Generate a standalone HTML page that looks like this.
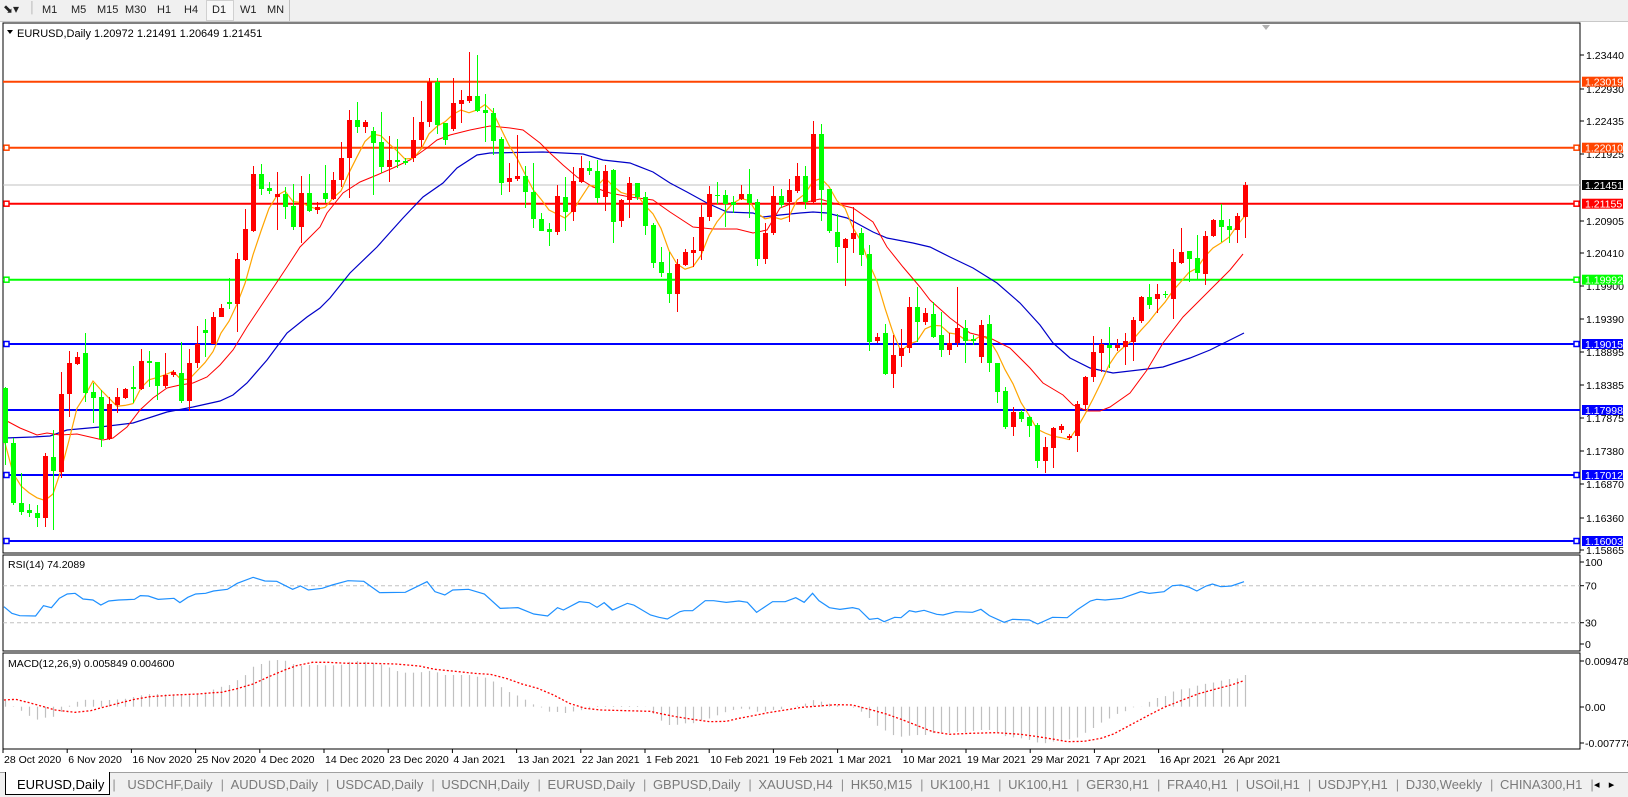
<!DOCTYPE html>
<html><head><meta charset="utf-8">
<style>
html,body{margin:0;padding:0;width:1628px;height:796px;overflow:hidden;background:#fff;font-family:"Liberation Sans",Tahoma,sans-serif;}
#tb{position:absolute;left:0;top:0;width:1628px;height:21px;background:#f0f0f0;border-bottom:1px solid #c8c8c8;font-size:11px;color:#222;}
#tb span{position:absolute;top:4px;}
#tabs{position:absolute;left:0;top:772px;width:1628px;height:24px;background:#f0f0f0;border-top:1px solid #a0a0a0;font-size:13px;color:#7a7a7a;white-space:nowrap;}
#tabs span{position:absolute;top:4px;}
svg{position:absolute;left:0;top:0}
</style></head><body>
<div id="tb">
<span style="left:3px;top:2px;font-size:12px">&#x2B0A;&#x25BE;</span>
<span style="left:29px;top:2px;color:#aaa">&#x2502;</span>
<span style="left:42px">M1</span><span style="left:71px">M5</span><span style="left:97px">M15</span><span style="left:125px">M30</span><span style="left:157px">H1</span><span style="left:184px">H4</span>
<span style="left:206px;top:0;width:26px;height:19px;border:1px solid #d0d0d0;background:#f8f8f8"></span>
<span style="left:212px">D1</span><span style="left:240px">W1</span><span style="left:267px">MN</span>
<span style="left:289px;top:0;height:21px;border-left:1px solid #c0c0c0"></span>
</div>
<svg id="s" width="1628" height="796" xmlns="http://www.w3.org/2000/svg" font-family="Liberation Sans, Tahoma, sans-serif"></svg>
<div id="tabs"></div>
<script>
const NS="http://www.w3.org/2000/svg";const S=document.getElementById('s');
function el(t,a,txt){const e=document.createElementNS(NS,t);for(const k in a)e.setAttribute(k,a[k]);if(txt!==undefined)e.textContent=txt;S.appendChild(e);return e;}
function interp(pts,x){if(x<=pts[0][0])return pts[0][1];for(let i=1;i<pts.length;i++){if(x<=pts[i][0]){const a=pts[i-1],b=pts[i];return a[1]+(b[1]-a[1])*(x-a[0])/(b[0]-a[0]);}}return pts[pts.length-1][1];}
el('rect',{x:3,y:23,width:1577,height:530,fill:'#fff',stroke:'#000','stroke-width':1});
el('rect',{x:3,y:555,width:1577,height:96,fill:'#fff',stroke:'#000','stroke-width':1});
el('rect',{x:3,y:653,width:1577,height:96,fill:'#fff',stroke:'#000','stroke-width':1});
el('polygon',{points:'1262,25 1270,25 1266,30',fill:'#b0b0b0'});
const lv=[[81.7,'#ff4500',0,0],[147.7,'#ff4500',1,1],[203.7,'#ff0000',1,1],[279.7,'#00ff00',1,1],[344,'#0000ff',1,1],[410,'#0000ff',0,0],[475,'#0000ff',1,1],[541,'#0000ff',1,1]];
el('line',{x1:3,x2:1580,y1:185,y2:185,stroke:'#c0c0c0','stroke-width':1});
lv.forEach(l=>{el('line',{x1:3,x2:1580,y1:l[0],y2:l[0],stroke:l[1],'stroke-width':2});
 if(l[2])el('rect',{x:4,y:l[0]-2.5,width:5,height:5,fill:'#fff',stroke:l[1],'stroke-width':1.5});
 if(l[3])el('rect',{x:1574,y:l[0]-2.5,width:5,height:5,fill:'#fff',stroke:l[1],'stroke-width':1.5});});
const C=`5,388,443,387,465,g;13,443,503,438,505,g;21,503,512,473,515,g;29,510,513,504,517,g;37,513,518,505,527,g;45,456,518,453,527,r;53,457,471,430,530,g;61,394,472,372,478,r;69,363,394,351,417,r;77,357,364,352,365,r;85,353,393,333,402,g;93,392,398,383,423,g;101,397,439,390,447,g;109,404,439,397,440,r;117,397,405,388,413,r;125,389,398,388,399,r;133,387,389,366,403,g;141,361,389,349,390,r;149,361,363,351,387,g;157,362,386,362,400,g;165,375,386,353,388,r;173,372,375,370,377,r;181,373,401,342,403,g;189,363,401,349,411,r;197,344,363,326,368,r;205,330,333,319,357,g;213,317,344,312,344,r;221,308,317,304,317,r;229,302,304,278,309,g;237,259,304,253,332,r;245,229,260,209,261,r;253,174,231,166,232,r;261,174,189,164,195,g;269,188,191,182,194,g;277,194,197,172,230,r;285,194,207,187,219,g;293,206,227,184,230,g;301,193,227,176,243,r;309,193,211,174,212,g;317,207,210,202,214,r;325,193,199,165,203,g;333,180,199,172,200,r;341,158,180,142,187,r;349,120,158,110,198,r;357,120,127,102,133,g;365,122,127,120,133,r;373,131,143,127,195,g;381,142,167,112,173,g;389,160,167,136,182,r;397,160,162,139,168,g;405,161,163,158,165,g;413,140,158,117,162,r;421,122,140,101,147,r;429,82,122,78,127,r;437,82,125,78,134,g;445,123,140,123,145,g;453,103,129,78,131,r;461,100,104,90,123,r;469,96,101,52,103,r;477,96,111,55,112,g;485,110,113,94,142,g;493,113,141,108,155,g;501,139,183,137,195,g;509,178,182,163,192,r;517,176,179,135,181,r;525,176,192,166,208,g;533,192,219,163,228,g;541,219,231,213,231,g;549,229,232,223,246,g;557,196,232,185,235,r;565,197,212,177,231,g;573,181,212,167,221,r;581,168,182,156,183,r;589,168,171,161,175,g;597,171,198,160,203,g;605,171,197,165,211,r;613,170,222,169,243,g;621,200,221,199,227,r;629,183,200,177,218,r;637,183,197,183,200,g;645,197,226,192,235,g;653,225,263,223,268,g;661,262,273,247,277,g;669,273,294,252,303,g;677,264,294,259,312,r;685,252,265,249,266,r;693,250,253,237,267,r;701,217,251,205,260,r;709,194,217,186,221,r;717,195,196,182,204,g;725,195,204,190,227,g;733,202,205,196,213,g;741,194,199,185,200,r;749,194,203,169,218,g;757,202,259,199,266,g;765,233,259,223,264,r;773,196,233,186,235,r;781,196,205,189,208,g;789,190,202,179,222,r;797,176,191,163,193,r;805,176,202,166,209,g;813,134,202,121,203,r;821,134,190,124,221,g;829,189,231,189,233,g;837,232,247,214,263,g;845,239,248,238,286,r;853,233,239,207,253,r;861,233,255,228,266,g;869,254,342,245,351,g;877,337,341,333,343,r;885,333,374,324,375,g;893,355,374,335,388,r;901,348,356,329,367,r;909,307,348,297,353,r;917,307,322,287,342,g;925,313,322,308,325,r;933,314,337,302,338,g;941,335,350,312,357,g;949,343,350,333,355,r;957,328,343,287,347,r;965,328,341,320,363,g;973,339,341,335,345,g;981,325,357,320,363,r;989,324,363,315,372,g;997,363,392,363,403,g;1005,391,427,387,429,g;1013,412,427,407,436,r;1021,412,419,410,422,g;1029,417,426,416,437,g;1037,425,461,423,468,g;1045,447,461,437,473,r;1053,428,448,427,468,r;1061,426,430,424,433,r;1069,436,438,434,440,r;1077,404,436,401,452,r;1085,377,405,376,410,r;1093,352,377,336,382,r;1101,344,353,339,372,r;1109,345,348,327,368,g;1117,345,348,339,351,r;1125,341,347,333,365,r;1133,320,342,317,361,r;1141,297,321,296,323,r;1149,297,305,284,309,g;1157,294,299,284,313,r;1165,294,295,291,298,g;1173,262,299,249,319,r;1181,252,263,228,264,r;1189,251,259,251,282,g;1197,258,273,235,279,g;1205,236,274,231,285,r;1213,220,236,219,237,r;1221,220,227,204,242,g;1229,226,230,219,243,g;1237,216,230,213,243,r;1245,185,217,182,238,r`.split(';').map(s=>{const a=s.split(',');return [+a[0],+a[1],+a[2],+a[3],+a[4],a[5]];});
const blue=[[5,438],[33,437],[50,436],[67,430],[100,427],[133,423],[167,412],[193,407],[220,401],[233,395],[247,383],[267,360],[287,333],[307,317],[320,308],[330,298],[350,273],[377,247],[403,218],[423,197],[443,183],[457,168],[477,155],[490,153],[543,152],[563,153],[583,154],[603,160],[630,163],[653,172],[670,183],[687,192],[707,203],[727,212],[753,213],[763,217],[780,215],[800,213],[813,212],[827,213],[847,218],[873,232],[887,238],[913,243],[930,247],[950,257],[973,268],[997,283],[1020,303],[1040,325],[1053,343],[1070,358],[1090,368],[1113,373],[1147,369],[1163,367],[1190,358],[1210,350],[1230,340],[1244,333]];
const red=[[5,420],[20,428],[37,435],[47,433],[60,435],[77,434],[90,437],[103,440],[113,438],[127,427],[140,410],[153,398],[167,388],[180,385],[193,383],[207,377],[220,365],[233,350],[247,327],[267,297],[287,267],[300,247],[320,227],[327,213],[343,193],[360,182],[377,175],[393,168],[410,160],[427,148],[437,140],[450,135],[470,130],[490,126],[510,128],[523,130],[540,143],[550,153],[563,165],[577,177],[593,187],[610,193],[630,197],[653,200],[670,212],[693,227],[713,229],[737,229],[753,233],[767,230],[780,208],[793,203],[807,202],[820,199],[833,203],[853,208],[873,222],[887,247],[903,267],[920,287],[930,300],[950,318],[970,333],[990,338],[1010,348],[1030,368],[1043,383],[1063,395],[1073,405],[1087,411],[1100,411],[1110,407],[1130,393],[1147,370],[1163,343],[1183,317],[1203,297],[1230,270],[1243,254]];
el('polyline',{points:blue.map(p=>p.join(',')).join(' '),fill:'none',stroke:'#0000c8','stroke-width':1.2});
el('polyline',{points:red.map(p=>p.join(',')).join(' '),fill:'none',stroke:'#ff0000','stroke-width':1});
const closes=C.map(c=>c[5]=='r'?c[1]:c[2]);
const or=closes.map((v,i)=>{const s=closes.slice(Math.max(0,i-4),i+1);return [C[i][0],s.reduce((a,b)=>a+b,0)/s.length];});
el('polyline',{points:or.map(p=>p.join(',')).join(' '),fill:'none',stroke:'#ffa500','stroke-width':1.2});
C.forEach(c=>{const col=c[5]=='r'?'#ff0000':'#00ff00';
 el('line',{x1:c[0]+.5,x2:c[0]+.5,y1:c[3],y2:c[4],stroke:col,'stroke-width':1});
 el('rect',{x:c[0]-2,y:c[1],width:5,height:Math.max(1,c[2]-c[1]),fill:col});});
el('polygon',{points:'7,30 13,30 10,34',fill:'#000'});
el('text',{x:17,y:37,'font-size':'11',fill:'#000'},'EURUSD,Daily  1.20972 1.21491 1.20649 1.21451');
[[55,'1.23440'],[89,'1.22930'],[121,'1.22435'],[154,'1.21925'],[221,'1.20905'],[253,'1.20410'],[286,'1.19900'],[319,'1.19390'],[352,'1.18895'],[385,'1.18385'],[418,'1.17875'],[451,'1.17380'],[484,'1.16870'],[518,'1.16360'],[550,'1.15865']].forEach(t=>{el('line',{x1:1580,x2:1584,y1:t[0],y2:t[0],stroke:'#000'});el('text',{x:1586,y:t[0]+4,'font-size':'10.5',fill:'#000'},t[1]);});
[[81.7,'1.23019','#ff4500'],[147.7,'1.22010','#ff4500'],[185,'1.21451','#000'],[203.7,'1.21155','#ff0000'],[279.7,'1.19992','#00ff00'],[344,'1.19015','#0000ff'],[410,'1.17998','#0000ff'],[475,'1.17012','#0000ff'],[541,'1.16003','#0000ff']].forEach(t=>{el('rect',{x:1582,y:t[0]-5,width:41,height:10,fill:t[2]});el('text',{x:1585,y:t[0]+4,'font-size':'10.5',fill:'#fff'},t[1]);});
el('line',{x1:3,x2:1580,y1:585.7,y2:585.7,stroke:'#c0c0c0','stroke-dasharray':'4,3'});
el('line',{x1:3,x2:1580,y1:622.7,y2:622.7,stroke:'#c0c0c0','stroke-dasharray':'4,3'});
const r9=[[10,200],[30,220],[50,227],[90,228],[110,197],[130,203],[150,175],[170,162],[190,160],[210,177],[235,180],[255,195],[275,183],[300,180],[340,178],[355,167],[375,168],[400,178],[440,175],[455,188],[475,172],[495,162],[520,160],[540,153],[575,148],[600,130],[640,112],[670,123],[700,124],[740,148],[760,138],[780,150],[815,145],[840,135],[880,122],[920,124],[960,158],[1025,157],[1080,125],[1100,155],[1125,165],[1145,150],[1185,148],[1225,162],[1265,205],[1310,203],[1350,222],[1385,228],[1410,203],[1425,210],[1465,185],[1490,188],[1510,202],[1528,188],[1548,210]].map(p=>[p[0]*620/1568,540+p[1]/3]);
const r11=[[10,158],[30,180],[65,160],[80,165],[120,195],[140,202],[160,207],[190,185],[200,182],[220,182],[250,152],[270,152],[300,157],[330,153],[350,157],[372,187],[410,155],[440,155],[465,143],[485,157],[505,130],[520,152],[545,173],[570,178],[600,173],[615,177],[640,208],[660,205],[675,215],[700,202],[715,203],[735,182],[750,186],[770,181],[800,193],[815,195],[845,185],[885,187],[905,178],[925,197],[960,217],[980,208],[1020,210],[1040,222],[1075,202],[1110,203],[1135,178],[1165,153],[1180,148],[1200,150],[1240,145],[1285,125],[1305,130],[1340,125],[1360,107],[1380,105],[1400,112],[1418,123],[1440,108],[1455,102],[1475,110],[1500,108],[1530,95]].map(p=>[600+p[0]*660/1568,550+p[1]/3]);
const rsi=r9.concat(r11);
el('polyline',{points:rsi.map(p=>p.join(',')).join(' '),fill:'none',stroke:'#1e90ff','stroke-width':1.2});
el('text',{x:8,y:568,'font-size':'10.5',fill:'#000'},'RSI(14) 74.2089');
[[562,'100'],[585.7,'70'],[622.7,'30'],[644,'0']].forEach(t=>{el('line',{x1:1580,x2:1584,y1:t[0],y2:t[0],stroke:'#000'});el('text',{x:1585,y:t[0]+4,'font-size':'10.5',fill:'#000'},t[1]);});
const Z=706.7;
const h9=[[10,480],[30,497],[50,510],[70,525],[90,540],[110,533],[130,533],[150,520],[170,500],[190,487],[210,480],[230,478],[250,483],[275,480],[300,478],[320,476],[340,470],[360,465],[380,462],[400,462],[420,463],[440,463],[460,463],[480,462],[500,462],[520,458],[540,448],[560,440],[580,435],[600,420],[620,405],[640,380],[660,372],[680,362],[700,360],[720,362],[740,372],[760,378],[780,375],[800,375],[820,376],[840,376],[860,375],[880,366],[900,363],[920,365],[940,368],[960,372],[985,383],[1000,392],[1020,398],[1040,398],[1060,398],[1080,392],[1100,395],[1125,405],[1145,405],[1165,405],[1185,405],[1205,410],[1225,412],[1245,423],[1265,440],[1285,455],[1305,465],[1325,477],[1345,492],[1365,500],[1385,515],[1405,515],[1425,520],[1445,515],[1465,512],[1485,505],[1510,498]].map(p=>[p[0]*620/1568,540+p[1]/3]);
const h11=[[10,468],[30,468],[50,468],[70,468],[90,468],[110,470],[125,490],[145,512],[160,525],[180,525],[200,520],[220,520],[240,510],[260,505],[280,495],[300,485],[315,480],[335,476],[350,476],[370,485],[390,485],[410,480],[430,477],[450,470],[470,467],[485,462],[505,450],[525,455],[540,460],[560,465],[580,470],[600,472],[620,485],[640,505],[655,525],[675,540],[695,555],[715,560],[735,557],[755,555],[775,555],[795,548],[815,547],[830,550],[845,545],[865,548],[885,543],[905,540],[925,540],[945,548],[965,560],[980,562],[1000,565],[1020,570],[1040,578],[1055,580],[1075,575],[1095,570],[1115,568],[1130,565],[1150,550],[1170,535],[1190,518],[1210,505],[1225,493],[1245,485],[1265,472],[1285,470],[1305,455],[1325,443],[1340,440],[1360,425],[1380,418],[1400,415],[1415,408],[1435,402],[1455,398],[1475,392],[1495,387],[1515,385],[1530,375]].map(p=>[600+p[0]*660/1568,550+p[1]/3]);
const hist=h9.concat(h11);
C.forEach(c=>{const y=interp(hist,c[0]);el('line',{x1:c[0]+.5,x2:c[0]+.5,y1:Z,y2:y,stroke:'#c0c0c0','stroke-width':1.2});});
const s9=[[10,480],[40,478],[80,490],[110,500],[140,510],[190,517],[230,512],[260,502],[300,490],[340,478],[380,470],[440,465],[500,462],[540,458],[560,457],[600,446],[640,432],[680,410],[720,390],[750,377],[790,367],[830,367],[880,370],[940,370],[1000,372],[1060,378],[1100,388],[1160,395],[1200,400],[1240,403],[1280,415],[1320,432],[1360,445],[1400,465],[1440,490],[1480,505],[1520,510]].map(p=>[p[0]*620/1568,540+p[1]/3]);
const s11=[[120,484],[140,490],[180,500],[220,508],[260,515],[300,514],[330,505],[360,498],[400,488],[440,480],[480,472],[520,468],[560,464],[600,465],[640,478],[680,492],[720,510],[760,530],[790,545],[830,553],[880,550],[940,548],[1000,553],[1040,560],[1080,568],[1110,575],[1150,574],[1190,565],[1220,552],[1260,525],[1300,498],[1340,472],[1380,452],[1420,432],[1460,418],[1500,405],[1530,392]].map(p=>[600+p[0]*660/1568,550+p[1]/3]);
el('polyline',{points:s9.concat(s11).map(p=>p.join(',')).join(' '),fill:'none',stroke:'#ff0000','stroke-width':1.3,'stroke-dasharray':'2,2'});
el('text',{x:8,y:667,'font-size':'10.5',fill:'#000'},'MACD(12,26,9) 0.005849 0.004600');
[[661,'0.009478'],[707,'0.00'],[743,'-0.007778']].forEach(t=>{el('line',{x1:1580,x2:1584,y1:t[0],y2:t[0],stroke:'#000'});el('text',{x:1585,y:t[0]+4,'font-size':'10.5',fill:'#000'},t[1]);});
['28 Oct 2020','6 Nov 2020','16 Nov 2020','25 Nov 2020','4 Dec 2020','14 Dec 2020','23 Dec 2020','4 Jan 2021','13 Jan 2021','22 Jan 2021','1 Feb 2021','10 Feb 2021','19 Feb 2021','1 Mar 2021','10 Mar 2021','19 Mar 2021','29 Mar 2021','7 Apr 2021','16 Apr 2021','26 Apr 2021'].forEach((d,k)=>{const x=3+64.2*k;el('line',{x1:x,x2:x,y1:749,y2:753,stroke:'#000'});el('text',{x:x+1,y:763,'font-size':'10.5',fill:'#000'},d);});
const T=['EURUSD,Daily','USDCHF,Daily','AUDUSD,Daily','USDCAD,Daily','USDCNH,Daily','EURUSD,Daily','GBPUSD,Daily','XAUUSD,H4','HK50,M15','UK100,H1','UK100,H1','GER30,H1','FRA40,H1','USOil,H1','USDJPY,H1','DJ30,Weekly','CHINA300,H1','U'];
const tb=document.getElementById('tabs');let x=17;
const cv=document.createElement('canvas').getContext('2d');cv.font='13px "Liberation Sans"';
T.forEach((t,i)=>{const w=cv.measureText(t).width;
 if(i==0){const b=document.createElement('span');b.style.cssText='left:5px;top:-1px;width:103px;height:22px;background:#fff;border:1px solid #000;border-top:none';tb.appendChild(b);}
 const s=document.createElement('span');s.textContent=t;s.style.left=x+'px';if(i==0)s.style.color='#000';tb.appendChild(s);
 x+=w;if(i<T.length-1){const p=document.createElement('span');p.textContent='|';p.style.left=(x+8)+'px';p.style.color='#909090';tb.appendChild(p);}x+=(i==0?23:18);});
const ar=document.createElement('span');ar.innerHTML='&#x25C2;&nbsp;&nbsp;&nbsp;&#x25B8;';ar.style.cssText='left:1594px;color:#000;background:#f0f0f0;font-size:11px;top:5px';tb.appendChild(ar);
</script>
</body></html>
